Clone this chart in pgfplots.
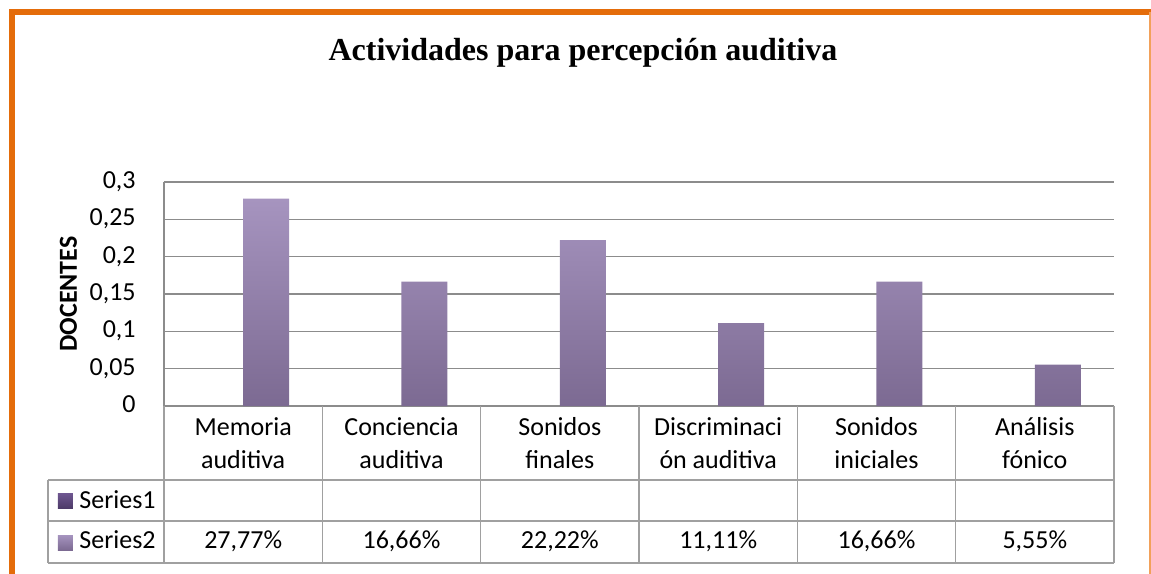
\documentclass[border=0pt]{standalone}
\usepackage{fontspec}
\setmainfont{Carlito}
\newfontfamily\titlefont{Liberation Serif}
\usepackage{pgfplots}
\pgfplotsset{compat=1.18}

\definecolor{brdOrange}{HTML}{E46C0A}
\definecolor{brdLight}{HTML}{F2A15A}
\definecolor{gridGray}{HTML}{8C8C8C}
\definecolor{tabGray}{HTML}{A0A0A0}
\definecolor{barTop}{HTML}{A694BF}
\definecolor{barBot}{HTML}{7C6A92}
\definecolor{oneTop}{HTML}{6F5791}
\definecolor{oneBot}{HTML}{4E3B69}

\begin{document}
\begin{tikzpicture}[font=\fontsize{13}{16.5}\selectfont]
\begin{axis}[
    at={(0,0)}, anchor=south west,
    scale only axis,
    width=475pt, height=112pt,
    xmin=-0.5, xmax=5.5,
    ymin=0, ymax=0.3,
    ytick={0,0.05,0.1,0.15,0.2,0.25,0.3},
    xtick={0,1,2,3,4,5},
    xticklabels={{Memoria\\auditiva},{Conciencia\\auditiva},{Sonidos\\finales},
                 {Discriminaci\\ón auditiva},{Sonidos\\iniciales},{Análisis\\fónico}},
    typeset ticklabels with strut,
    xticklabel style={align=center, anchor=north, inner sep=0pt, yshift=-2.95pt,
                      font=\fontsize{13}{16.5}\selectfont},
    yticklabel style={anchor=east, inner sep=0pt, xshift=-14pt,
                      font=\fontsize{13}{16.5}\selectfont},
    major tick length=0pt,
    axis line style={draw=none},
    ymajorgrids,
    grid style={gridGray, line width=0.7pt},
    /pgf/number format/use comma,
    /pgf/number format/fixed,
    /pgf/number format/precision=2,
    /pgf/number format/assume math mode=true,
    clip=false,
]
% Series2 (Series1 is empty)
\addplot[ybar, bar width=23pt, bar shift=11.5pt, draw=none,
         top color=barTop, bottom color=barBot] coordinates {
    (0,0.2777) (1,0.1666) (2,0.2222) (3,0.1111) (4,0.1666) (5,0.0555)
};
\end{axis}

% left axis line, running down through the data table
\draw[gridGray, line width=0.7pt] (0pt,112pt) -- (0pt,0pt);
\begin{scope}[tabGray, line width=0.7pt]
  \draw (0pt,0pt) -- (0pt,-78.5pt);
  \draw (-58pt,-37pt) -- (475pt,-37pt);
  \draw (-58pt,-57.5pt) -- (475pt,-57.5pt);
  \draw (-58pt,-78.5pt) -- (475pt,-78.5pt);
  \draw (-58pt,-37pt) -- (-58pt,-78.5pt);
  \foreach \i in {1,...,6} \draw (\i*79.1667pt,0pt) -- (\i*79.1667pt,-78.5pt);
\end{scope}

% legend keys of the table
\shade[top color=oneTop, bottom color=oneBot] (-53pt,-43.5pt) rectangle (-45.5pt,-51pt);
\node[anchor=base west, inner sep=0pt] at (-42.5pt,-51pt) {Series1};
\shade[top color=barTop, bottom color=barBot] (-53pt,-64.5pt) rectangle (-45.5pt,-72pt);
\node[anchor=base west, inner sep=0pt] at (-42.5pt,-71pt) {Series2};

% values row
\foreach \v [count=\k from 0] in {{27,77\%},{16,66\%},{22,22\%},{11,11\%},{16,66\%},{5,55\%}}
  \node[anchor=base, inner sep=0pt] at (39.5833pt+\k*79.1667pt,-71pt) {\v};

% title and y label
\node[anchor=base, inner sep=0pt, font={\fontsize{16}{19}\titlefont\bfseries}]
  at (209.5pt,172.5pt) {Actividades para percepción auditiva};
\node[rotate=90, inner sep=0pt, font={\fontsize{13}{16.5}\selectfont\bfseries}]
  at (-47.75pt,56pt) {DOCENTES};

% orange frame
\draw[brdOrange, line width=2.8pt] (-76pt,-95pt) -- (-76pt,197pt) -- (500pt,197pt);
\draw[brdLight, line width=0.9pt] (492.8pt,197pt) -- (492.8pt,-95pt);

\pgfresetboundingbox
\useasboundingbox (-82pt,-83.5pt) rectangle (493.5pt,203pt);
\end{tikzpicture}
\end{document}
